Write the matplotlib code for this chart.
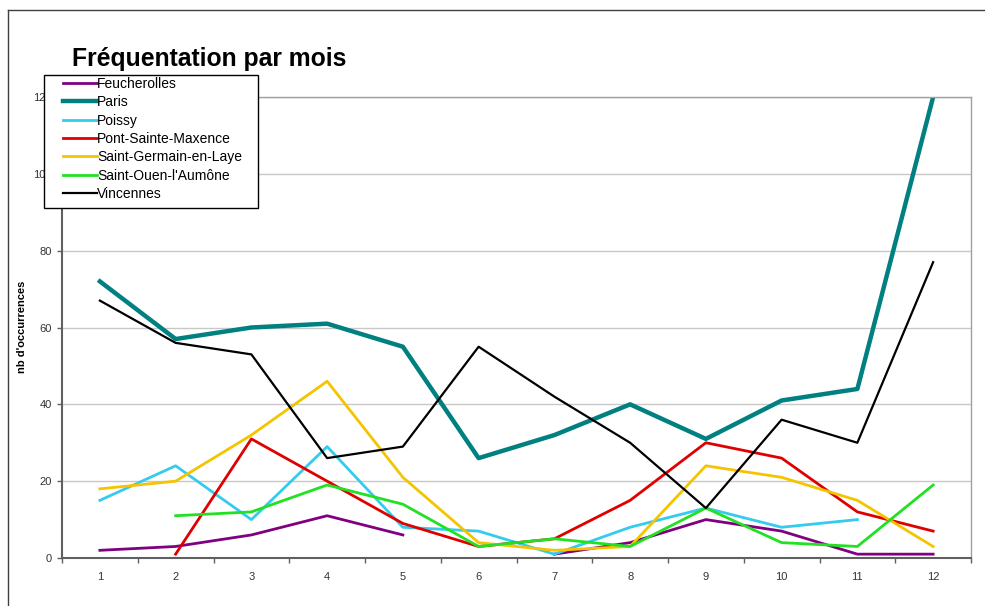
import numpy as np
import matplotlib
matplotlib.use('Agg')
import matplotlib.pyplot as plt
from matplotlib.lines import Line2D
from matplotlib.patches import Rectangle

plt.rcParams['font.family'] = ['Liberation Sans', 'DejaVu Sans']

nan = np.nan
months = list(range(1, 13))

## Values (nan = no point that month)
feucherolles = [2, 3, 6, 11, 6, nan, 1, 4, 10, 7, 1, 1]
paris = [72, 57, 60, 61, 55, 26, 32, 40, 31, 41, 44, 120]
poissy = [15, 24, 10, 29, 8, 7, 1, 8, 13, 8, 10, nan]
pont_sainte_maxence = [nan, 1, 31, 20, 9, 3, 5, 15, 30, 26, 12, 7]
saint_germain = [18, 20, 32, 46, 21, 4, 2, 3, 24, 21, 15, 3]
saint_ouen = [nan, 11, 12, 19, 14, 3, 5, 3, 13, 4, 3, 19]
vincennes = [67, 56, 53, 26, 29, 55, 42, 30, 13, 36, 30, 77]

series = [
    ('Feucherolles', feucherolles, '#800080', 2.0),
    ('Paris', paris, '#008080', 3.2),
    ('Poissy', poissy, '#33CCEE', 2.0),
    ('Pont-Sainte-Maxence', pont_sainte_maxence, '#E00000', 2.0),
    ('Saint-Germain-en-Laye', saint_germain, '#F5C400', 2.0),
    ('Saint-Ouen-l\'Aumône', saint_ouen, '#22E022', 2.0),
    ('Vincennes', vincennes, '#000000', 1.6),
]

W, H = 985, 606
fig = plt.figure(figsize=(W / 100, H / 100), dpi=100)
ax = fig.add_axes([62 / W, 1 - 558 / H, (971 - 62) / W, (558 - 97) / H])

for name, vals, col, lw in series:
    ax.plot(months, vals, color=col, lw=lw, label=name)

ax.set_xlim(0.5, 12.5)
ax.set_ylim(0, 120)

# x labels at month centres, tick marks between categories
ax.set_xticks(months)
ax.set_xticklabels([str(m) for m in months], fontsize=8, color='#333333')
ax.tick_params(axis='x', which='major', length=0, pad=10)
ax.set_xticks(np.arange(0.5, 13, 1), minor=True)
ax.tick_params(axis='x', which='minor', length=3.5, width=1, color='#606060', direction='out')

ax.set_yticks(range(0, 121, 20))
ax.set_yticklabels([str(v) for v in range(0, 121, 20)], fontsize=8, color='#333333')
ax.tick_params(axis='y', length=3.5, width=1, color='#606060', direction='out', pad=4)

ax.yaxis.grid(True, color='#c8c8c8', lw=1)
ax.set_axisbelow(True)

for s in ['left', 'bottom']:
    ax.spines[s].set_color('#606060')
    ax.spines[s].set_linewidth(1.5)
for s in ['top', 'right']:
    ax.spines[s].set_color('#a0a0a0')
    ax.spines[s].set_linewidth(1)

fig.text(22 / W, 1 - 327 / H, "nb d'occurrences", fontsize=8, fontweight='bold',
         rotation=90, ha='center', va='center')

fig.text(72 / W, 1 - 59 / H, 'Fréquentation par mois', fontsize=17.8, fontweight='bold',
         ha='left', va='center')

# legend box drawn separately so the inner padding matches the original
fig.add_artist(Rectangle((44 / W, 1 - 208 / H), (258 - 44) / W, (208 - 75) / H,
                         transform=fig.transFigure, facecolor='white',
                         edgecolor='black', lw=1, zorder=4))
leg = fig.legend(loc='upper left', bbox_to_anchor=(63 / W, 1 - 77 / H), fontsize=10,
                 handlelength=2.45, handletextpad=0.0, labelspacing=0.31,
                 borderpad=0.0, borderaxespad=0, frameon=False)
leg.set_zorder(5)

# outer chart frame (cut off at right and bottom in the original)
fig.add_artist(Line2D([8 / W, 8 / W], [0, 1 - 10 / H], color='#404040', lw=1,
                      transform=fig.transFigure))
fig.add_artist(Line2D([8 / W, 1], [1 - 10 / H, 1 - 10 / H], color='#404040', lw=1,
                      transform=fig.transFigure))

fig.savefig('out.png', dpi=100)
